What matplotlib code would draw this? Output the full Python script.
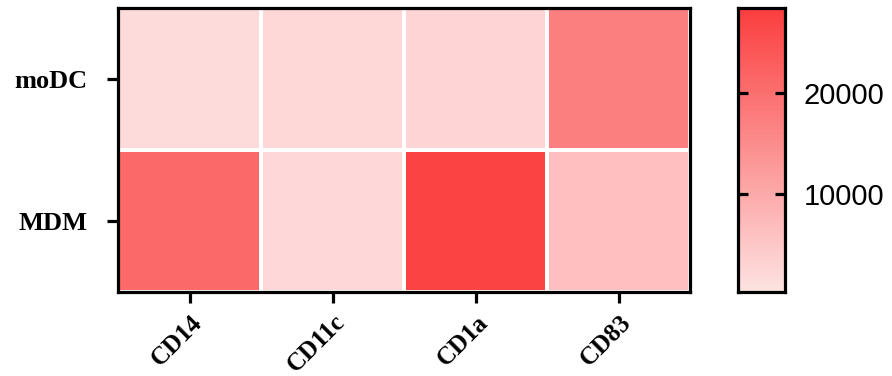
import numpy as np
import matplotlib
matplotlib.use("Agg")
import matplotlib.pyplot as plt
from matplotlib.colors import LinearSegmentedColormap, Normalize

# heatmap data (MFI)
rows = ["moDC", "MDM"]
markers = ["CD14", "CD11c", "CD1a", "CD83"]
modc_vals = [1800, 2300, 2900, 17300]
mdm_vals = [21000, 2200, 27600, 6500]
cbar_ticks = [10000, 20000]
vmin, vmax = 300, 28400

data = np.array([modc_vals, mdm_vals])

cmap = LinearSegmentedColormap.from_list("pinkred", ["#fee3e3", "#fb3e3e"])
norm = Normalize(vmin=vmin, vmax=vmax)

fig = plt.figure(figsize=(8.92, 3.76), dpi=100)
ax = fig.add_axes([0.1328, 0.2221, 0.6413, 0.7553])
cax = fig.add_axes([0.8279, 0.2221, 0.0527, 0.7553])

ax.pcolormesh(data, cmap=cmap, norm=norm, edgecolors="white", linewidth=1.6)
ax.set_xlim(0, len(markers))
ax.set_ylim(len(rows), 0)

ax.set_xticks(np.arange(len(markers)) + 0.5)
ax.set_xticklabels(markers, rotation=45, ha="right", rotation_mode="anchor",
                   family="Liberation Serif", fontweight="bold", fontsize=18)
ax.set_yticks(np.arange(len(rows)) + 0.5)
ax.set_yticklabels(rows, family="Liberation Serif", fontweight="bold", fontsize=19)
ax.tick_params(axis="both", length=8, width=2.3)
ax.tick_params(axis="x", pad=5)
ax.tick_params(axis="y", pad=14)
for s in ax.spines.values():
    s.set_linewidth(2.3)

# colorbar
grad = np.linspace(vmin, vmax, 256).reshape(-1, 1)
cax.imshow(grad, aspect="auto", cmap=cmap, norm=norm, origin="lower",
           extent=[0, 1, vmin, vmax])
cax.set_xticks([])
cax.set_yticks(cbar_ticks)
cax.yaxis.tick_right()
cax.tick_params(axis="y", which="both", direction="in", left=True, right=True,
                length=7, width=2.3, pad=13, labelsize=21)
for lab in cax.get_yticklabels():
    lab.set_family("Liberation Sans")
for s in cax.spines.values():
    s.set_linewidth(2.3)

fig.savefig("out.png", dpi=100)
